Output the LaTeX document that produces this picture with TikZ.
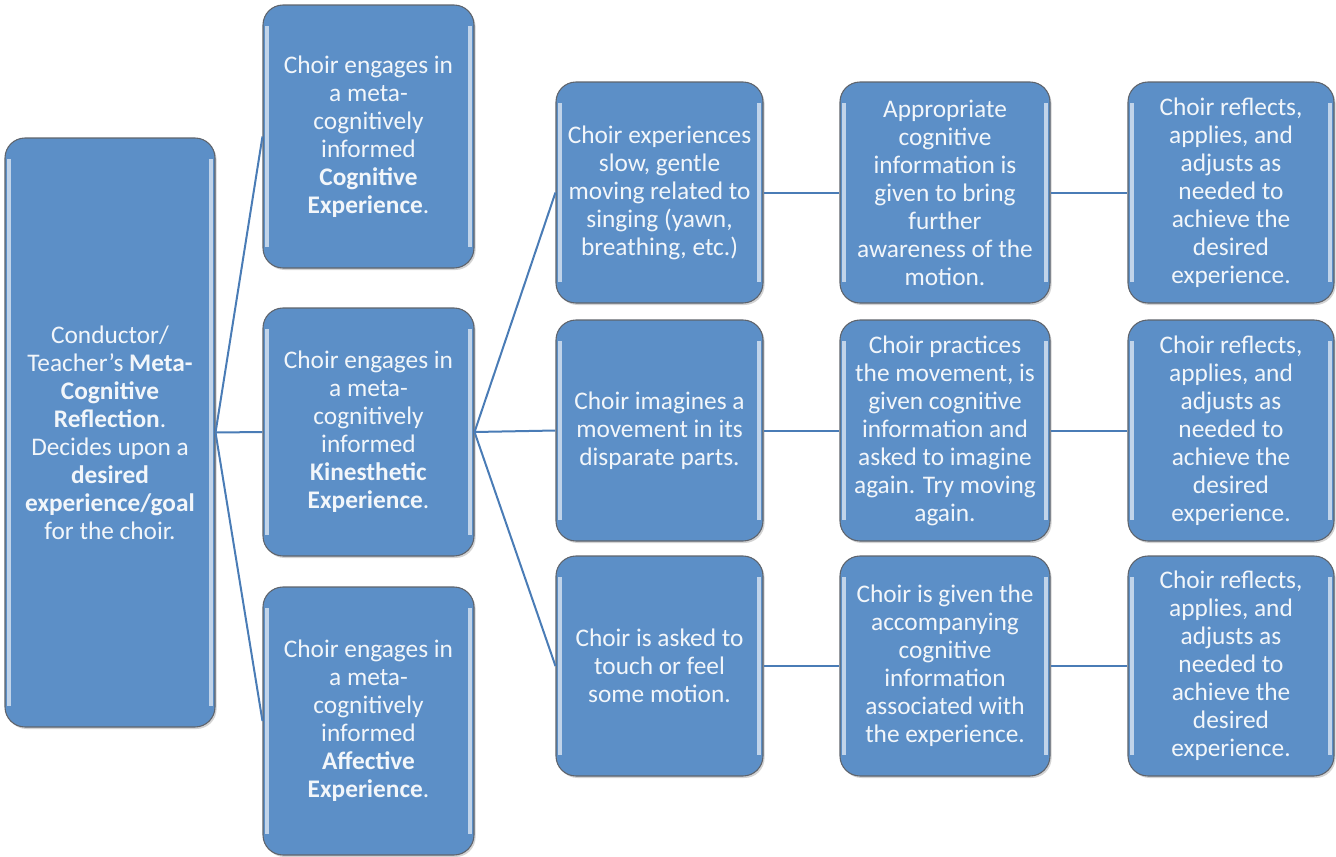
\documentclass[tikz,border=0pt]{standalone}
\usepackage{fontspec}
\setmainfont{Carlito}
\usetikzlibrary{shadows}
\definecolor{boxblue}{RGB}{92,143,199}
\definecolor{linkblue}{RGB}{74,124,182}
\definecolor{edgegray}{RGB}{95,100,108}
\newcommand{\boxfont}{\fontsize{19}{21}\selectfont}

\tikzset{
  box/.style={shape=rectangle, draw=edgegray, line width=0.8pt, fill=boxblue,
    rounded corners=15pt, text=white!92!boxblue, align=center, font=\boxfont,
    inner sep=1pt,
    drop shadow={opacity=0.35, shadow xshift=1.2pt, shadow yshift=-1.5pt},
    path picture={
      \draw[white!62!boxblue, line width=2.4pt]
        ([xshift=3pt,yshift=-16pt]path picture bounding box.north west) --
        ([xshift=3pt,yshift=16pt]path picture bounding box.south west);
      \draw[white!62!boxblue, line width=2.4pt]
        ([xshift=-3pt,yshift=-16pt]path picture bounding box.north east) --
        ([xshift=-3pt,yshift=16pt]path picture bounding box.south east);
    }},
  link/.style={draw=linkblue, line width=1.5pt},
}

\begin{document}
\begin{tikzpicture}[x=0.75pt,y=-0.75pt]
\useasboundingbox (0,0) rectangle (1336,857);

% root
\node[box, minimum width=157.5pt, minimum height=441.75pt](root) at (110,432.5)
  {Conductor/\\Teacher’s \textbf{Meta-}\\\textbf{Cognitive}\\\textbf{Reflection}.\\Decides upon a\\\textbf{desired}\\\textbf{experience/goal}\\for the choir.};

% level 1
\node[box, minimum width=158.25pt, minimum height=197.25pt](cog) at (368.5,136.5)
  {Choir engages in\\a meta-\\cognitively\\informed\\\textbf{Cognitive}\\\textbf{Experience}.};
\node[box, minimum width=158.25pt, minimum height=186pt](kin) at (368.5,432)
  {Choir engages in\\a meta-\\cognitively\\informed\\\textbf{Kinesthetic}\\\textbf{Experience}.};
\node[box, minimum width=158.25pt, minimum height=201pt](aff) at (368.5,721)
  {Choir engages in\\a meta-\\cognitively\\informed\\\textbf{Affective}\\\textbf{Experience}.};

% level 2
\node[box, minimum width=155.25pt, minimum height=165.75pt](slow) at (659.5,192.5)
  {Choir experiences\\slow, gentle\\moving related to\\singing (yawn,\\breathing, etc.)};
\node[box, minimum width=155.25pt, minimum height=165.75pt](imag) at (659.5,430.5)
  {Choir imagines a\\movement in its\\disparate parts.};
\node[box, minimum width=155.25pt, minimum height=165pt](touch) at (659.5,666)
  {Choir is asked to\\touch or feel\\some motion.};

% level 3
\node[box, minimum width=157.5pt, minimum height=165.75pt](info1) at (945,192.5)
  {Appropriate\\cognitive\\information is\\given to bring\\further\\awareness of the\\motion.};
\node[box, minimum width=157.5pt, minimum height=165.75pt](info2) at (945,430.5)
  {Choir practices\\the movement, is\\given cognitive\\information and\\asked to imagine\\again. Try moving\\again.};
\node[box, minimum width=157.5pt, minimum height=165pt](info3) at (945,666)
  {Choir is given the\\accompanying\\cognitive\\information\\associated with\\the experience.};

% level 4
\node[box, minimum width=154.5pt, minimum height=165.75pt](refl1) at (1231,192.5)
  {Choir reflects,\\applies, and\\adjusts as\\needed to\\achieve the\\desired\\experience.};
\node[box, minimum width=154.5pt, minimum height=165.75pt](refl2) at (1231,430.5)
  {Choir reflects,\\applies, and\\adjusts as\\needed to\\achieve the\\desired\\experience.};
\node[box, minimum width=154.5pt, minimum height=165pt](refl3) at (1231,666)
  {Choir reflects,\\applies, and\\adjusts as\\needed to\\achieve the\\desired\\experience.};

% connectors
\path [link]
(root.east) edge (cog.west)
(root.east) edge (kin.west)
(root.east) edge (aff.west)
(kin.east) edge (slow.west)
(kin.east) edge (imag.west)
(kin.east) edge (touch.west)
(slow.east) edge (info1.west)
(imag.east) edge (info2.west)
(touch.east) edge (info3.west)
(info1.east) edge (refl1.west)
(info2.east) edge (refl2.west)
(info3.east) edge (refl3.west);
\end{tikzpicture}
\end{document}
